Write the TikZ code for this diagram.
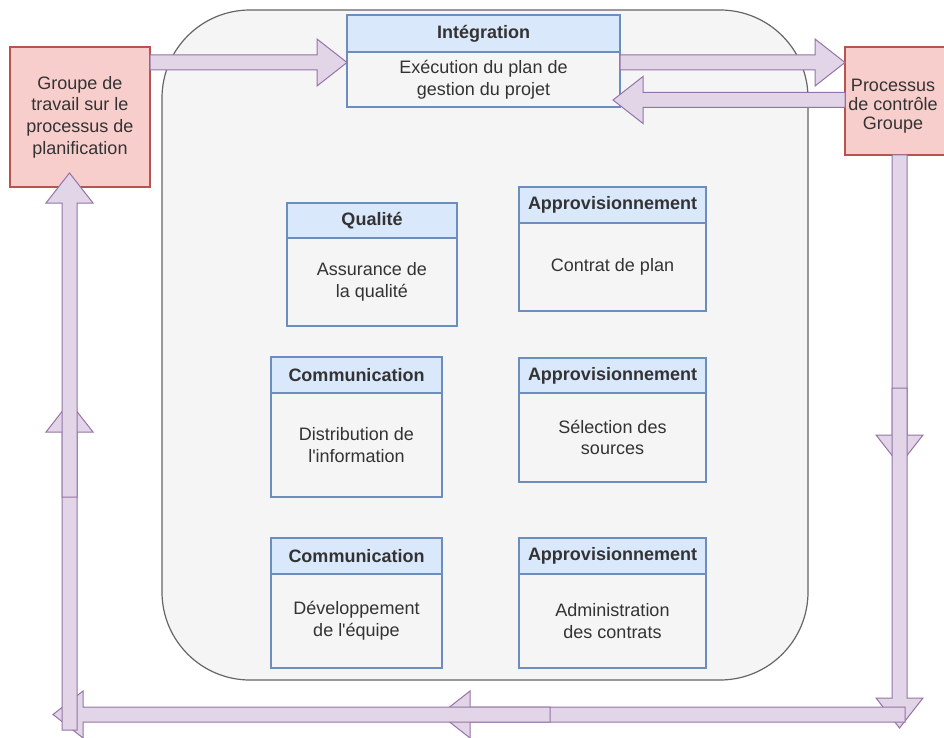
\documentclass[tikz,border=0pt]{standalone}
\usepackage{fontspec}
\setmainfont{Liberation Sans}
\usetikzlibrary{positioning,calc}

\definecolor{panelfill}{HTML}{F5F5F5}
\definecolor{paneldraw}{HTML}{666666}
\definecolor{lanefill}{HTML}{DAE8FC}
\definecolor{lanedraw}{HTML}{6C8EBF}
\definecolor{groupfill}{HTML}{F8CECC}
\definecolor{groupdraw}{HTML}{B85450}
\definecolor{flowfill}{HTML}{E1D5E7}
\definecolor{flowdraw}{HTML}{9673A6}
\definecolor{txt}{HTML}{333333}

%% wide block arrow from #2 to #3
\newcommand{\flowarrow}[3][]{%
    \path (#2) coordinate (fa-s) (#3) coordinate (fa-e);
    \coordinate (fa-b) at ($(fa-e)!30pt!(fa-s)$);
    \filldraw[flow,#1] ($(fa-s)!7.5pt!90:(fa-e)$) -- ($(fa-b)!7.5pt!-90:(fa-s)$)
        -- ($(fa-b)!23.5pt!-90:(fa-s)$) -- (fa-e) -- ($(fa-b)!23.5pt!90:(fa-s)$)
        -- ($(fa-b)!7.5pt!90:(fa-s)$) -- ($(fa-s)!7.5pt!-90:(fa-e)$) -- cycle;}

\begin{document}
\begin{tikzpicture}[x=1pt,y=-1pt,
        every node/.style={font=\fontsize{18}{21.6}\selectfont, text=txt,
            outer sep=0pt, inner sep=0pt, align=center, line width=1.2pt},
        panel/.style={draw=paneldraw, fill=panelfill, rounded corners=88pt,
            minimum width=646pt, minimum height=670pt},
        group/.style={draw=groupdraw, fill=groupfill},
        lane/.style={draw=lanedraw, fill=lanefill,
            font=\fontsize{18}{21.6}\selectfont\bfseries},
        lanebody/.style={draw=lanedraw, below=0pt of #1},
        flow/.style={draw=flowdraw, fill=flowfill, line width=1pt}]
    \useasboundingbox (0,0) rectangle (944,738);
    \clip (0,0) rectangle (944,738);

    %% Execution phase
    \node[panel] (exec) at (485,345) {};

    %% Process groups
    \node[group, minimum width=140pt, minimum height=140pt] (plan) at (80,117)
        {Groupe de\\travail sur le\\processus de\\planification};
    \node[group, minimum width=114pt, minimum height=108pt] (ctrl) at (902,101) {};
    \node[font=\fontsize{18}{19}\selectfont] (ctrltxt) at ($(ctrl.center)+(-9,5)$)
        {Processus\\de contrôle\\Groupe};

    %% Knowledge areas
    \node[lane, minimum width=273pt, minimum height=37pt] (int) at (483.5,33.5) {Intégration};
    \node[lanebody=int, minimum width=273pt, minimum height=55pt] (intb)
        {Exécution du plan de\\gestion du projet};

    \node[lane, minimum width=170pt, minimum height=35pt] (qual) at (372,220.5) {Qualité};
    \node[lanebody=qual, minimum width=170pt, minimum height=88pt] (qualb)
        {Assurance de\\la qualité};

    \node[lane, minimum width=187pt, minimum height=36pt] (proc) at (612.5,205) {Approvisionnement};
    \node[lanebody=proc, minimum width=187pt, minimum height=88pt] (procb)
        {Contrat de plan};

    \node[lane, minimum width=171pt, minimum height=36pt] (comm) at (356.5,375) {Communication};
    \node[lanebody=comm, minimum width=171pt, minimum height=104pt] (commb)
        {Distribution de\\l\textquotesingle information};

    \node[lane, minimum width=187pt, minimum height=35pt] (src) at (612.5,375.5) {Approvisionnement};
    \node[lanebody=src, minimum width=187pt, minimum height=89pt] (srcb)
        {Sélection des\\sources};

    \node[lane, minimum width=171pt, minimum height=36pt] (team) at (356.5,556) {Communication};
    \node[lanebody=team, minimum width=171pt, minimum height=94pt] (teamb)
        {Développement\\de l\textquotesingle équipe};

    \node[lane, minimum width=187pt, minimum height=36pt] (adm) at (612.5,556) {Approvisionnement};
    \node[lanebody=adm, minimum width=187pt, minimum height=94pt] (admb)
        {Administration\\des contrats};

    %% Loop corners
    \coordinate (rmid) at (899.5,465);
    \coordinate (rtail) at (899.5,388);
    \coordinate (rbot) at (899.5,728);
    \coordinate (btail) at (905,714.5);
    \coordinate (bmid) at (440,714.5);
    \coordinate (b2tail) at (550,714.5);
    \coordinate (bleft) at (53,714.5);
    \coordinate (ltail) at (69.5,730);
    \coordinate (lmid) at (69.5,402);
    \coordinate (l2tail) at (69.5,497);

    %% Arrows
    \flowarrow{$(plan.north east)+(0,15.5)$}{$(intb.north west)+(0,10.5)$}
    \flowarrow{$(intb.north east)+(0,10.5)$}{$(ctrl.north west)+(0,15.5)$}
    \flowarrow{$(ctrl.north west)+(0,53)$}{$(intb.north east)+(-7,48)$}
    \flowarrow{$(ctrl.south)+(-2.5,0)$}{rmid}
    \flowarrow{rtail}{rbot}
    \flowarrow{btail}{bmid}
    \flowarrow{b2tail}{bleft}
    \flowarrow{ltail}{lmid}
    \flowarrow{l2tail}{$(plan.south west)+(59.5,-14)$}
\end{tikzpicture}
\end{document}
